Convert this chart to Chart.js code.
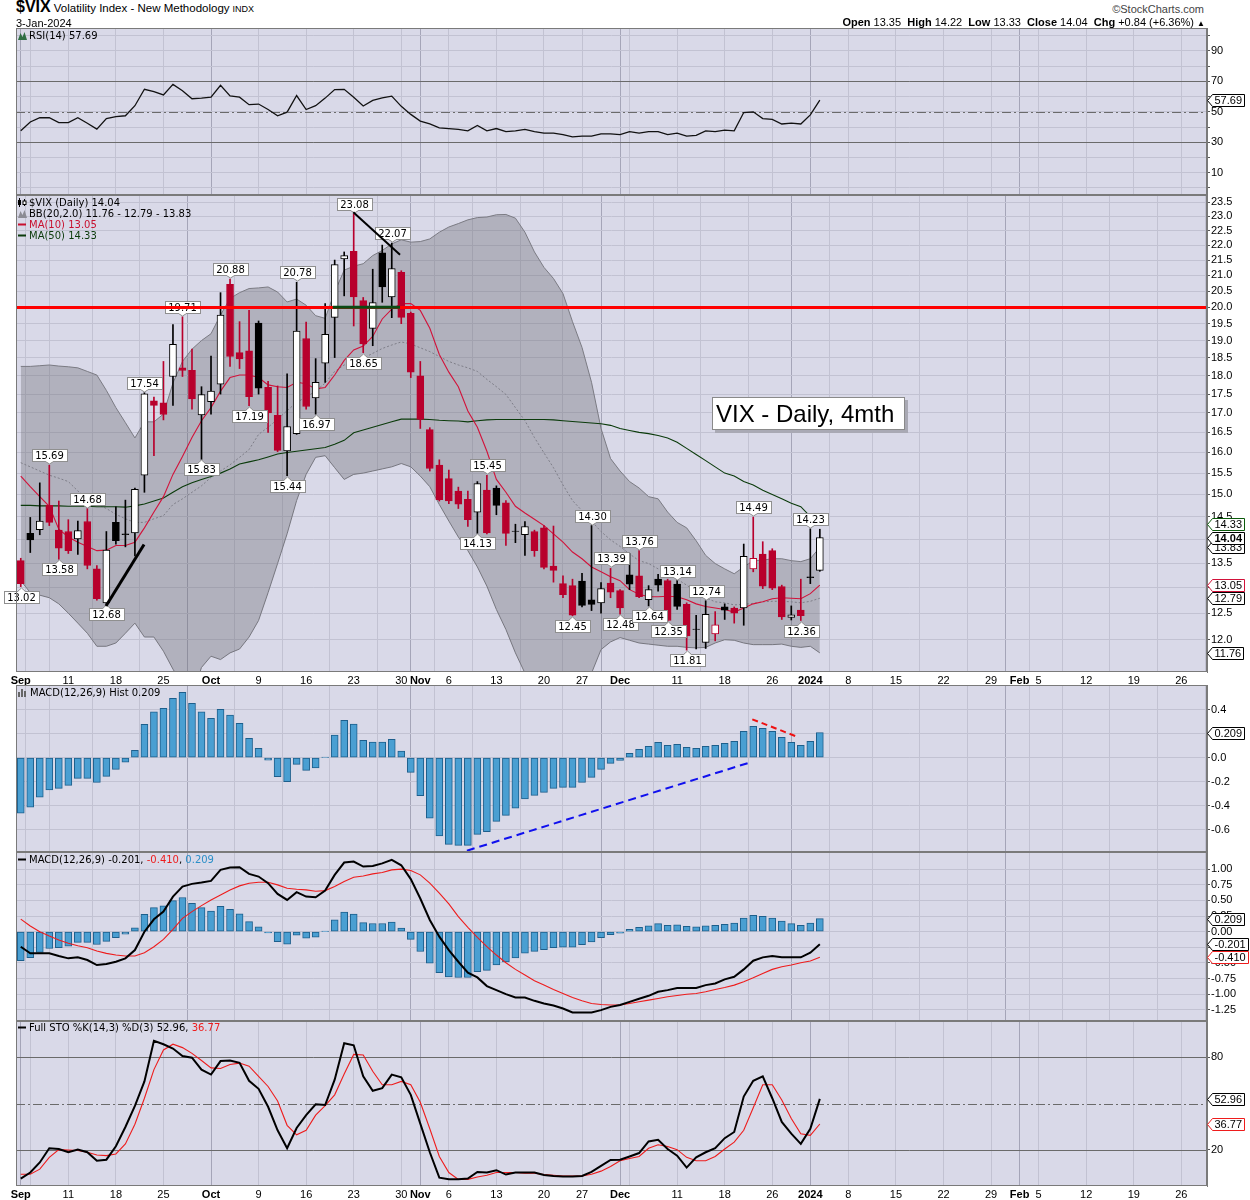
<!DOCTYPE html>
<html>
<head>
<meta charset="utf-8">
<title>$VIX Daily</title>
<script src="https://cdn.jsdelivr.net/npm/chart.js@4.4.1/dist/chart.umd.min.js"></script>
<style>
  html, body { margin: 0; padding: 0; background: #fff; }
  #page { position: relative; width: 1250px; height: 1200px; overflow: hidden; }
  #page canvas { position: absolute; left: 0; }
  .txt { position: absolute; white-space: nowrap; color: #000; font-family: "Liberation Sans", Arial, sans-serif; font-size: 11px; line-height: 12px; }
  .leg { position: absolute; left: 18px; white-space: nowrap; font-family: "DejaVu Sans", Verdana, sans-serif; font-size: 10px; line-height: 11px; color: #000; }
  .leg svg { vertical-align: -1px; margin-right: 2px; }
  #note { position: absolute; left: 712px; top: 397px; width: 188px; height: 31px; padding-left: 3px; background: #fff; border: 1px solid #8a8a8a; box-shadow: 3px 3px 0 #a9a9b4; font-family: "Liberation Sans", Arial, sans-serif; font-size: 24px; line-height: 31px; }
</style>
</head>
<body>
<div id="page">
  <canvas id="cRsi" width="1250" height="167" style="top:28px"></canvas>
  <canvas id="cMain" width="1250" height="491" style="top:195px"></canvas>
  <canvas id="cHist" width="1250" height="167" style="top:685px"></canvas>
  <canvas id="cMacd" width="1250" height="169" style="top:852px"></canvas>
  <canvas id="cSto" width="1250" height="179" style="top:1021px"></canvas>

  <div class="txt" style="left:16px;top:1px"><b style="font-size:16px;font-family:Arial,'Liberation Sans'">$VIX</b>&nbsp;<span style="font-size:11.5px">Volatility Index - New Methodology</span>&nbsp;<span style="font-size:9px">INDX</span></div>
  <div class="txt" style="left:16px;top:17px">3-Jan-2024</div>
  <div class="txt" style="right:46px;top:3px;color:#444">&copy;StockCharts.com</div>
  <div class="txt" id="ohlc" style="right:45px;top:16px"></div>

  <div class="leg" style="top:30px"><svg width="9" height="9"><path d="M0 9 L2.5 2 L4.5 6 L6.5 1 L9 9 Z" fill="#2f6e44"/></svg><span id="lgRsi"></span></div>
  <div class="leg" style="top:197px"><svg width="9" height="9"><path d="M1.5 0 V9 M6.5 1 V8" stroke="#000"/><rect x="0" y="2" width="3" height="5" fill="#000"/><rect x="5" y="3" width="3" height="3.5" fill="#fff" stroke="#000"/></svg><span id="lgMain"></span></div>
  <div class="leg" style="top:208px"><svg width="9" height="9"><path d="M0 9 L2.5 2 L4.5 6 L6.5 1 L9 9 Z" fill="#8c8c94"/></svg><span id="lgBB"></span></div>
  <div class="leg" style="top:219px;color:#c8102e"><svg width="9" height="9"><rect x="0" y="3.5" width="8" height="2" fill="#c8102e"/></svg><span id="lgMa10"></span></div>
  <div class="leg" style="top:230px;color:#0b3b0b"><svg width="9" height="9"><rect x="0" y="3.5" width="8" height="2" fill="#0b3b0b"/></svg><span id="lgMa50"></span></div>
  <div class="leg" style="top:687px"><svg width="10" height="9"><rect x="0" y="4" width="2" height="5" fill="#666"/><rect x="3" y="1" width="2" height="8" fill="#666"/><rect x="6" y="3" width="2" height="6" fill="#666"/></svg><span id="lgHist"></span></div>
  <div class="leg" style="top:854px"><svg width="9" height="9"><rect x="0" y="3.5" width="8" height="2" fill="#000"/></svg><span id="lgMacd"></span></div>
  <div class="leg" style="top:1022px"><svg width="9" height="9"><rect x="0" y="3.5" width="8" height="2" fill="#000"/></svg><span id="lgSto"></span></div>

  <div id="note">VIX - Daily, 4mth</div>
</div>

<script>
// trading days shown on the axis (last 40 are the empty space to the right)
const days = [
  'Sep 1', 'Sep 5', 'Sep 6', 'Sep 7', 'Sep 8',
  'Sep 11', 'Sep 12', 'Sep 13', 'Sep 14', 'Sep 15',
  'Sep 18', 'Sep 19', 'Sep 20', 'Sep 21', 'Sep 22',
  'Sep 25', 'Sep 26', 'Sep 27', 'Sep 28', 'Sep 29',
  'Oct 2', 'Oct 3', 'Oct 4', 'Oct 5', 'Oct 6',
  'Oct 9', 'Oct 10', 'Oct 11', 'Oct 12', 'Oct 13',
  'Oct 16', 'Oct 17', 'Oct 18', 'Oct 19', 'Oct 20',
  'Oct 23', 'Oct 24', 'Oct 25', 'Oct 26', 'Oct 27',
  'Oct 30', 'Oct 31', 'Nov 1', 'Nov 2', 'Nov 3',
  'Nov 6', 'Nov 7', 'Nov 8', 'Nov 9', 'Nov 10',
  'Nov 13', 'Nov 14', 'Nov 15', 'Nov 16', 'Nov 17',
  'Nov 20', 'Nov 21', 'Nov 22', 'Nov 24',
  'Nov 27', 'Nov 28', 'Nov 29', 'Nov 30', 'Dec 1',
  'Dec 4', 'Dec 5', 'Dec 6', 'Dec 7', 'Dec 8',
  'Dec 11', 'Dec 12', 'Dec 13', 'Dec 14', 'Dec 15',
  'Dec 18', 'Dec 19', 'Dec 20', 'Dec 21', 'Dec 22',
  'Dec 26', 'Dec 27', 'Dec 28', 'Dec 29',
  'Jan 2', 'Jan 3', 'Jan 4', 'Jan 5',
  'Jan 8', 'Jan 9', 'Jan 10', 'Jan 11', 'Jan 12',
  'Jan 15', 'Jan 16', 'Jan 17', 'Jan 18', 'Jan 19',
  'Jan 22', 'Jan 23', 'Jan 24', 'Jan 25', 'Jan 26',
  'Jan 29', 'Jan 30', 'Jan 31', 'Feb 1', 'Feb 2',
  'Feb 5', 'Feb 6', 'Feb 7', 'Feb 8', 'Feb 9',
  'Feb 12', 'Feb 13', 'Feb 14', 'Feb 15', 'Feb 16',
  'Feb 19', 'Feb 20', 'Feb 21', 'Feb 22', 'Feb 23',
  'Feb 26', 'Feb 27', 'Feb 28'
];
const weekStart = [1, 5, 10, 15, 20, 25, 30, 35, 40, 45, 50, 55, 59, 64, 69, 74, 79, 83, 87, 92, 97, 102, 107, 112, 117, 122];
const monthStart = [0, 20, 42, 63, 83, 105];
const tickIdx = [0, 5, 10, 15, 20, 25, 30, 35, 40, 42, 45, 50, 55, 59, 63, 69, 74, 79, 83, 87, 92, 97, 102, 105, 107, 112, 117, 122];
const tickText = ['Sep', '11', '18', '25', 'Oct', '9', '16', '23', '30', 'Nov', '6', '13', '20', '27', 'Dec', '11', '18', '26', '2024', '8', '15', '22', '29', 'Feb', '5', '12', '19', '26'];

const priorClose = 13.57;
const openV = [13.55, 14.13, 14.21, 14.75, 14.20, 14.17, 14.01, 14.39, 13.38, 12.70,
  14.37, 14.12, 14.14, 15.45, 17.32, 17.27, 17.98, 18.22, 18.15, 16.95,
  17.30, 17.77, 20.71, 18.65, 18.70, 19.52, 17.68, 16.94, 16.04, 16.47,
  19.06, 17.40, 18.35, 19.69, 21.54, 21.79, 20.20, 19.36, 21.74, 20.32,
  21.10, 19.81, 18.00, 16.57, 15.69, 15.37, 15.08, 14.89, 14.60, 15.10,
  15.15, 14.81, 14.18, 14.10, 14.17, 14.25, 13.44, 13.08, 13.04,
  13.13, 12.76, 12.70, 13.09, 12.94, 13.26, 13.24, 12.76, 13.17, 13.14,
  13.07, 12.67, 12.20, 11.95, 12.11, 12.62, 12.60, 12.60, 13.38, 13.69,
  13.76, 13.02, 12.42, 12.56, 13.22, 13.35];
const highV = [13.60, 14.48, 15.27, 15.69, 14.85, 14.43, 14.40, 14.68, 13.45, 14.17,
  14.72, 14.87, 15.15, 17.54, 17.42, 18.40, 19.47, 19.71, 18.75, 17.70,
  18.55, 20.45, 20.88, 19.56, 19.90, 19.58, 17.85, 17.72, 18.05, 20.78,
  19.55, 18.48, 20.11, 21.50, 21.77, 23.08, 20.30, 21.20, 22.00, 22.07,
  21.15, 19.85, 18.40, 16.62, 15.82, 15.57, 15.17, 15.08, 15.30, 15.45,
  15.20, 14.86, 14.33, 14.39, 14.20, 14.30, 14.29, 13.24, 13.17,
  13.29, 14.30, 13.10, 13.39, 12.96, 13.70, 13.76, 13.04, 13.27, 13.17,
  13.14, 12.70, 12.46, 12.74, 12.53, 12.68, 12.62, 13.90, 14.49, 13.95,
  13.80, 13.05, 12.64, 13.17, 14.23, 14.22];
const lowV = [13.02, 13.72, 14.10, 14.30, 13.58, 13.70, 13.68, 13.38, 12.75, 12.68,
  13.90, 13.84, 13.65, 15.05, 15.92, 16.82, 17.20, 17.98, 17.10, 15.83,
  16.97, 17.50, 18.26, 18.20, 17.19, 17.50, 16.50, 16.02, 15.44, 16.45,
  17.10, 16.97, 17.82, 18.51, 20.35, 19.43, 18.65, 18.85, 20.15, 19.68,
  19.50, 17.95, 16.60, 15.55, 14.85, 14.79, 14.68, 14.28, 14.13, 14.12,
  14.54, 13.87, 13.93, 13.66, 13.64, 13.38, 13.11, 12.80, 12.45,
  12.62, 12.55, 12.50, 12.80, 12.48, 12.96, 12.80, 12.64, 12.93, 12.35,
  12.57, 11.81, 11.83, 11.84, 11.98, 12.38, 12.31, 12.27, 13.32, 12.98,
  12.96, 12.38, 12.37, 12.36, 13.08, 13.33];
const closeV = [13.08, 13.99, 14.40, 14.37, 13.81, 13.76, 14.19, 13.45, 12.78, 13.77,
  13.97, 14.10, 15.12, 17.51, 17.20, 16.96, 18.89, 18.15, 17.37, 17.49,
  17.58, 19.76, 18.54, 18.47, 17.43, 17.66, 17.00, 16.05, 16.65, 19.28,
  17.17, 17.82, 19.18, 21.35, 21.65, 20.32, 18.90, 20.14, 20.63, 21.22,
  19.69, 18.10, 16.83, 15.61, 14.88, 14.85, 14.78, 14.43, 15.25, 14.14,
  14.75, 14.13, 14.17, 14.28, 13.76, 13.41, 13.35, 12.86, 12.46,
  12.65, 12.67, 12.98, 12.91, 12.60, 13.07, 12.82, 12.96, 13.05, 12.36,
  12.63, 12.07, 12.19, 12.48, 12.28, 12.56, 12.50, 13.64, 13.60, 13.03,
  12.99, 12.43, 12.47, 12.45, 13.20, 14.04];

const ma10 = [15.43, 15.18, 14.95, 14.73, 14.22, 14.05, 13.94, 13.85, 13.76, 13.77,
  13.87, 13.87, 13.94, 14.25, 14.60, 14.95, 15.47, 15.90, 16.37, 16.80,
  17.14, 17.58, 17.95, 18.02, 18.02, 17.95, 17.75, 17.70, 17.68, 17.82,
  17.78, 17.64, 17.68, 18.02, 18.43, 18.73, 18.84, 19.12, 19.64, 19.94,
  20.11, 20.11, 19.90, 19.36, 18.60, 18.10, 17.70, 17.05, 16.63, 16.03,
  15.35, 15.05, 14.73, 14.58, 14.44, 14.30, 14.12, 13.94, 13.73,
  13.59, 13.42, 13.32, 13.22, 13.14, 12.96, 12.87, 12.82, 12.82, 12.83,
  12.82, 12.76, 12.68, 12.63, 12.60, 12.57, 12.52, 12.60, 12.68, 12.72,
  12.78, 12.80, 12.79, 12.78, 12.88, 13.05];
const ma50 = [14.75, 14.75, 14.74, 14.74, 14.74, 14.73, 14.73, 14.73, 14.72, 14.72,
  14.72, 14.71, 14.74, 14.78, 14.85, 14.92, 15.05, 15.18, 15.27, 15.35,
  15.42, 15.50, 15.60, 15.72, 15.77, 15.82, 15.89, 15.96, 16.00, 16.03,
  16.06, 16.09, 16.12, 16.20, 16.30, 16.49, 16.56, 16.63, 16.70, 16.77,
  16.84, 16.84, 16.84, 16.83, 16.81, 16.80, 16.79, 16.77, 16.80, 16.82,
  16.83, 16.83, 16.83, 16.83, 16.83, 16.83, 16.82, 16.80, 16.78,
  16.76, 16.74, 16.72, 16.68, 16.60, 16.55, 16.50, 16.47, 16.42, 16.36,
  16.25, 16.10, 15.95, 15.80, 15.65, 15.50, 15.43, 15.30, 15.22, 15.10,
  15.00, 14.90, 14.80, 14.72, 14.50, 14.33];
const bbUpper = [18.26, 18.26, 18.28, 18.30, 18.27, 18.25, 18.22, 18.12, 18.02, 17.60,
  17.14, 16.75, 16.36, 16.77, 16.77, 16.97, 17.80, 18.40, 18.75, 19.00,
  19.20, 19.76, 20.27, 20.45, 20.58, 20.60, 20.63, 20.47, 20.16, 20.25,
  20.06, 19.74, 19.66, 20.47, 21.17, 21.30, 21.38, 21.65, 21.82, 22.04,
  22.18, 22.10, 22.12, 22.21, 22.44, 22.62, 22.74, 22.87, 22.95, 22.97,
  23.05, 23.06, 22.93, 22.44, 21.77, 21.26, 20.90, 20.42, 19.56,
  18.80, 17.82, 16.60, 15.85, 15.55, 15.30, 15.15, 14.95, 14.90, 14.60,
  14.37, 14.25, 13.97, 13.66, 13.49, 13.38, 13.28, 13.42, 13.55, 13.56,
  13.59, 13.59, 13.55, 13.53, 13.59, 13.83];
const bbMid = [15.75, 15.65, 15.55, 15.45, 15.38, 15.30, 15.08, 14.90, 14.78, 14.68,
  14.55, 14.45, 14.37, 14.37, 14.45, 14.52, 14.77, 14.90, 15.05, 15.20,
  15.40, 15.55, 15.70, 15.88, 16.07, 16.45, 16.63, 16.84, 17.06, 17.28,
  17.42, 17.58, 17.80, 18.12, 18.30, 18.40, 18.49, 18.63, 18.77, 18.87,
  18.96, 18.90, 18.79, 18.68, 18.54, 18.40, 18.30, 18.22, 18.12, 17.90,
  17.70, 17.49, 17.14, 16.80, 16.37, 15.99, 15.63, 15.22, 14.86,
  14.63, 14.40, 14.17, 13.99, 13.85, 13.69, 13.55, 13.49, 13.38, 13.28,
  13.17, 13.05, 12.92, 12.80, 12.72, 12.70, 12.66, 12.67, 12.69, 12.72,
  12.73, 12.73, 12.72, 12.70, 12.73, 12.79];
const bbLower = [13.14, 12.90, 12.85, 12.80, 12.68, 12.50, 12.31, 12.12, 11.88, 11.88,
  11.94, 12.12, 12.31, 12.05, 12.05, 11.79, 11.47, 11.20, 11.00, 11.50,
  11.70, 11.64, 11.76, 11.83, 12.05, 12.36, 12.90, 13.49, 14.12, 14.86,
  15.47, 15.88, 15.92, 15.63, 15.35, 15.47, 15.50, 15.55, 15.60, 15.65,
  15.73, 15.65, 15.43, 15.18, 14.77, 14.40, 14.05, 13.76, 13.42, 13.03,
  12.57, 12.19, 11.76, 11.40, 11.10, 10.90, 10.80, 10.80, 10.90,
  11.10, 11.40, 11.82, 11.96, 12.04, 11.99, 11.94, 11.92, 11.90, 11.88,
  11.88, 11.86, 11.85, 11.86, 11.94, 12.00, 11.99, 11.94, 11.91, 11.91,
  11.91, 11.92, 11.88, 11.86, 11.88, 11.76];

const rsi14 = [37.5, 43.3, 46.1, 46.1, 42.9, 42.9, 46.1, 42.5, 38.6, 45.5,
  46.8, 47.4, 54.0, 64.8, 63.3, 61.1, 68.0, 63.9, 58.6, 59.0,
  59.6, 67.4, 60.5, 59.6, 54.7, 55.1, 51.5, 47.4, 49.8, 60.7,
  51.5, 54.0, 59.0, 64.6, 64.8, 59.6, 53.8, 57.5, 59.2, 60.3,
  53.6, 48.3, 43.9, 42.0, 39.5, 39.0, 38.5, 37.5, 41.0, 37.5,
  39.0, 37.0, 37.5, 38.5, 37.0, 36.0, 36.0, 35.0, 33.5,
  34.0, 34.0, 35.5, 35.5, 35.0, 37.0, 36.0, 37.0, 37.0, 35.0,
  36.0, 34.0, 34.5, 37.5, 37.0, 38.0, 37.5, 49.5, 50.0, 45.5,
  45.0, 42.0, 42.5, 42.0, 48.0, 57.69];

const macdLine = [-0.240, -0.346, -0.346, -0.346, -0.389, -0.426, -0.410, -0.453, -0.533, -0.517,
  -0.480, -0.426, -0.293, 0.000, 0.198, 0.320, 0.560, 0.720, 0.763, 0.784,
  0.811, 0.987, 1.024, 1.030, 0.923, 0.880, 0.774, 0.603, 0.507, 0.630,
  0.560, 0.550, 0.656, 0.907, 1.104, 1.120, 1.040, 1.050, 1.090, 1.147,
  1.060, 0.840, 0.530, 0.187, -0.080, -0.293, -0.480, -0.656, -0.730, -0.869,
  -0.933, -0.997, -1.050, -1.050, -1.104, -1.146, -1.178, -1.226, -1.290,
  -1.290, -1.290, -1.253, -1.200, -1.170, -1.120, -1.070, -1.024, -0.960, -0.933,
  -0.900, -0.900, -0.900, -0.853, -0.827, -0.762, -0.720, -0.602, -0.464, -0.410,
  -0.390, -0.410, -0.410, -0.410, -0.336, -0.201];
const macdSignal = [0.200, 0.091, 0.000, -0.069, -0.133, -0.186, -0.224, -0.256, -0.309, -0.346,
  -0.373, -0.389, -0.389, -0.336, -0.240, -0.122, 0.037, 0.213, 0.320, 0.416,
  0.507, 0.587, 0.667, 0.731, 0.774, 0.790, 0.790, 0.747, 0.694, 0.678,
  0.667, 0.646, 0.656, 0.720, 0.800, 0.870, 0.890, 0.923, 0.944, 0.987,
  0.998, 0.976, 0.907, 0.774, 0.614, 0.443, 0.240, 0.070, -0.090, -0.240,
  -0.373, -0.496, -0.602, -0.693, -0.784, -0.853, -0.922, -0.986, -1.050,
  -1.104, -1.146, -1.162, -1.170, -1.170, -1.146, -1.120, -1.093, -1.066, -1.040,
  -1.018, -1.000, -0.986, -0.960, -0.922, -0.890, -0.853, -0.800, -0.736, -0.666,
  -0.602, -0.560, -0.533, -0.496, -0.469, -0.410];
const macdHist = [-0.463, -0.413, -0.330, -0.269, -0.255, -0.230, -0.172, -0.172, -0.205, -0.155,
  -0.097, -0.038, 0.062, 0.278, 0.383, 0.411, 0.495, 0.545, 0.453, 0.383,
  0.328, 0.403, 0.356, 0.286, 0.161, 0.078, -0.020, -0.158, -0.200, -0.055,
  -0.105, -0.086, 0.003, 0.189, 0.311, 0.281, 0.145, 0.131, 0.131, 0.153,
  0.056, -0.122, -0.317, -0.503, -0.653, -0.722, -0.731, -0.731, -0.639, -0.617,
  -0.531, -0.481, -0.420, -0.344, -0.314, -0.289, -0.256, -0.247, -0.247,
  -0.206, -0.164, -0.097, -0.047, -0.022, 0.036, 0.069, 0.094, 0.128, 0.103,
  0.111, 0.086, 0.078, 0.094, 0.103, 0.119, 0.136, 0.219, 0.261, 0.244,
  0.219, 0.169, 0.128, 0.103, 0.136, 0.209];

const stoK = [1.5, 5.4, 11.9, 21.1, 20.6, 18.5, 20.2, 18.5, 13.0, 13.7,
  22.4, 34.8, 48.4, 64.3, 90.5, 88.3, 85.5, 80.7, 79.6, 71.9,
  68.7, 77.4, 77.8, 76.3, 64.7, 59.5, 47.9, 32.7, 21.1, 34.2,
  42.5, 49.5, 49.0, 65.4, 88.9, 87.6, 67.6, 58.2, 59.9, 68.7,
  66.9, 55.6, 37.0, 18.5, 2.1, 1.0, 1.0, 1.5, 5.8, 5.4,
  6.9, 4.1, 5.4, 5.4, 5.4, 3.8, 3.2, 2.8, 2.8,
  3.2, 5.8, 9.7, 13.5, 13.7, 15.8, 18.0, 25.5, 26.5, 20.6,
  16.3, 8.6, 15.2, 18.5, 21.1, 27.6, 31.6, 54.5, 64.7, 67.6,
  53.4, 38.1, 30.5, 23.9, 33.7, 52.96];
const stoD = [4.3, 4.3, 7.6, 15.2, 20.2, 20.0, 19.6, 18.5, 16.7, 16.3,
  17.4, 23.9, 36.6, 53.4, 71.9, 84.6, 88.3, 86.1, 82.4, 77.8,
  73.0, 72.6, 75.2, 76.1, 74.1, 67.6, 61.0, 51.6, 35.9, 29.8,
  32.7, 42.5, 48.6, 55.6, 69.1, 81.7, 81.3, 70.8, 62.1, 62.1,
  64.3, 62.1, 50.8, 33.7, 15.8, 5.4, 1.0, 1.0, 2.5, 3.6,
  5.4, 5.4, 5.4, 4.9, 4.9, 4.1, 3.6, 3.2, 3.2,
  3.2, 4.3, 6.3, 9.3, 13.0, 14.5, 15.8, 21.1, 23.3, 22.2,
  20.2, 15.2, 13.0, 13.0, 15.8, 20.6, 25.0, 32.7, 47.3, 62.1,
  62.1, 52.3, 40.3, 30.5, 29.4, 36.77];

// labelled highs ('a') and lows ('b')
const peakIdx = [0, 3, 4, 7, 9, 13, 17, 19, 22, 24, 28, 29, 31, 35, 36, 39, 48, 49, 58, 60, 62, 63, 65, 66, 68, 69, 70, 72, 77, 82, 83];
const peakSide = ['b', 'a', 'b', 'a', 'b', 'a', 'a', 'b', 'a', 'b', 'b', 'a', 'b', 'a', 'b', 'a', 'b', 'a', 'b', 'a', 'a', 'b', 'a', 'b', 'b', 'a', 'b', 'a', 'a', 'b', 'a'];

// hand-drawn lines on the chart, in day-index / value units
const mainLines = [
  { x1: 8.96, y1: 12.64, x2: 12.96, y2: 13.89, c: '#000', w: 3 },
  { x1: 34.96, y1: 23.14, x2: 39.87, y2: 21.68, c: '#000', w: 2 },
  { x1: 32.8, y1: 20, x2: 39.87, y2: 20, c: '#0b4a14', w: 3 }
];
const histLines = [
  { x1: 46.9, y1: -0.775, x2: 76.8, y2: -0.036, c: '#1010ee', w: 2, dash: [8, 5] },
  { x1: 76.9, y1: 0.32, x2: 81.8, y2: 0.169, c: '#ee1010', w: 2, dash: [6, 4] }
];

const mainTicks = [12.0, 12.5, 13.0, 13.5, 14.0, 14.5, 15.0, 15.5, 16.0, 16.5, 17.0, 17.5, 18.0, 18.5, 19.0, 19.5, 20.0, 20.5, 21.0, 21.5, 22.0, 22.5, 23.0, 23.5];
const rsiTicks = [0, 10, 20, 30, 40, 50, 60, 70, 80, 90, 100];
const rsiLabels = [90, 70, 50, 30, 10];
const histTicks = [-0.6, -0.4, -0.2, 0, 0.2, 0.4];
const macdTicks = [-1.25, -1, -0.75, -0.5, -0.25, 0, 0.25, 0.5, 0.75, 1];
const stoTicks = [20, 80];

const FONT = '"Liberation Sans", Arial, sans-serif';
const PANEL_BG = '#d9d9e8';
const GRID = '#c2c2d2';
const GRID_MONTH = '#a5a5b8';
const RED = '#b8002c';
const X_MIN = -0.5, X_MAX = 124.7;

const idx = days.map((d, i) => i);
const last = closeV.length - 1;
const gridDays = [...new Set([...monthStart, ...weekStart])].sort((a, b) => a - b);

const candleUp = closeV.map((c, i) => c >= openV[i]);
const candleRed = closeV.map((c, i) => c < (i ? closeV[i - 1] : priorClose));
const lineCol = candleRed.map(r => r ? RED : '#000');
const fillCol = candleUp.map((u, i) => u ? '#ffffff' : lineCol[i]);
const bodies = openV.map((o, i) => [o, closeV[i]]);
const wicks = lowV.map((l, i) => [l, highV[i]]);

function clipArea(ctx, a) {
  ctx.beginPath();
  ctx.rect(a.left, a.top, a.width, a.height);
  ctx.clip();
}

function drawLevels(chart, levels, after) {
  const { ctx, chartArea: a, scales: { y } } = chart;
  ctx.save();
  clipArea(ctx, a);
  levels.forEach(lv => {
    if (!!lv.after !== after) return;
    const py = Math.round(y.getPixelForValue(lv.v)) + (lv.w % 2 ? 0.5 : 0);
    ctx.strokeStyle = lv.c;
    ctx.lineWidth = lv.w;
    ctx.setLineDash(lv.dash || []);
    ctx.beginPath();
    ctx.moveTo(a.left, py);
    ctx.lineTo(a.right, py);
    ctx.stroke();
  });
  ctx.restore();
}

function drawSegments(chart, segs) {
  const { ctx, chartArea: a, scales: { x, y } } = chart;
  ctx.save();
  clipArea(ctx, a);
  segs.forEach(s => {
    ctx.strokeStyle = s.c;
    ctx.lineWidth = s.w;
    ctx.setLineDash(s.dash || []);
    ctx.beginPath();
    ctx.moveTo(x.getPixelForValue(s.x1), y.getPixelForValue(s.y1));
    ctx.lineTo(x.getPixelForValue(s.x2), y.getPixelForValue(s.y2));
    ctx.stroke();
  });
  ctx.restore();
}

function drawTags(chart, tags) {
  const { ctx, chartArea: a, scales: { y } } = chart;
  ctx.save();
  tags.forEach(t => {
    const py = Math.round(y.getPixelForValue(t.v)) + 0.5;
    ctx.font = (t.bold ? 'bold ' : '') + '11px ' + FONT;
    const w = Math.ceil(ctx.measureText(t.text).width) + 4;
    const x0 = Math.round(a.right) + 0.5, x1 = x0 + 5, h = 6;
    ctx.beginPath();
    ctx.moveTo(x0, py);
    ctx.lineTo(x1, py - h);
    ctx.lineTo(x1 + w, py - h);
    ctx.lineTo(x1 + w, py + h);
    ctx.lineTo(x1, py + h);
    ctx.closePath();
    ctx.fillStyle = '#fff';
    ctx.fill();
    ctx.strokeStyle = t.c;
    ctx.lineWidth = 1;
    ctx.stroke();
    ctx.fillStyle = t.tc || '#000';
    ctx.textAlign = 'left';
    ctx.textBaseline = 'middle';
    ctx.fillText(t.text, x1 + 2, py + 0.5);
  });
  ctx.restore();
}

function drawPeaks(chart) {
  const { ctx, scales: { x, y } } = chart;
  ctx.save();
  ctx.font = '10px "DejaVu Sans", Verdana, sans-serif';
  ctx.textAlign = 'center';
  ctx.textBaseline = 'middle';
  peakIdx.forEach((i, k) => {
    const up = peakSide[k] === 'a';
    const v = up ? highV[i] : lowV[i];
    const txt = v.toFixed(2);
    const px = Math.round(x.getPixelForValue(i)) + 0.5;
    const py = Math.round(y.getPixelForValue(v));
    const w = Math.ceil(ctx.measureText(txt).width) + 6, h = 12;
    const bx = Math.round(px - w / 2) + 0.5;
    const by = up ? py - 4 - h + 0.5 : py + 4 + 0.5;
    ctx.fillStyle = '#fff';
    ctx.strokeStyle = '#8f8f8f';
    ctx.lineWidth = 1;
    ctx.fillRect(bx, by, w, h);
    ctx.strokeRect(bx, by, w, h);
    const edge = up ? by + h : by;
    const tip = up ? py - 1 : py + 1;
    ctx.beginPath();
    ctx.moveTo(px - 4, edge);
    ctx.lineTo(px, tip);
    ctx.lineTo(px + 4, edge);
    ctx.fill();
    ctx.stroke();
    ctx.fillRect(px - 3, up ? edge - 1.5 : edge - 0.5, 6, 2);
    ctx.fillStyle = '#000';
    ctx.fillText(txt, px, by + h / 2 + 0.5);
  });
  ctx.restore();
}

function panelPlugin(cfg) {
  return {
    id: 'panel',
    beforeDraw(chart) {
      const { ctx, chartArea: a } = chart;
      ctx.save();
      ctx.fillStyle = PANEL_BG;
      ctx.fillRect(a.left, a.top, a.width, a.height);
      ctx.restore();
    },
    beforeDatasetsDraw(chart) {
      drawLevels(chart, cfg.levels || [], false);
    },
    afterDatasetsDraw(chart) {
      if (cfg.peaks) drawPeaks(chart);
      drawLevels(chart, cfg.levels || [], true);
      drawSegments(chart, cfg.segments || []);
    },
    afterDraw(chart) {
      const { ctx, chartArea: a } = chart;
      ctx.save();
      ctx.strokeStyle = '#7a7a7a';
      ctx.lineWidth = 1;
      ctx.strokeRect(Math.round(a.left) + 0.5, Math.round(a.top) + 0.5, Math.round(a.width) - 1, Math.round(a.height) - 1);
      ctx.restore();
      drawTags(chart, cfg.tags || []);
    }
  };
}

function xAxis(showLabels) {
  const isMonth = c => monthStart.includes(c.tick ? c.tick.value : -1);
  return {
    type: 'linear', min: X_MIN, max: X_MAX, offset: false,
    afterBuildTicks: s => { s.ticks = gridDays.map(v => ({ value: v })); },
    afterFit: s => { s.height = showLabels ? 14 : 0; s.paddingLeft = 0; s.paddingRight = 0; },
    grid: { color: c => isMonth(c) ? GRID_MONTH : GRID, drawTicks: false, lineWidth: 1 },
    border: { display: false },
    ticks: {
      display: showLabels, autoSkip: false, maxRotation: 0, minRotation: 0, padding: 2, color: '#000',
      font: c => ({ family: FONT, size: 11, weight: isMonth(c) ? 'bold' : 'normal' }),
      callback: v => { const k = tickIdx.indexOf(v); return k < 0 ? '' : tickText[k]; }
    }
  };
}

function yAxis(o) {
  return {
    type: o.type || 'linear', position: 'right', min: o.min, max: o.max,
    afterBuildTicks: s => { s.ticks = o.ticks.map(v => ({ value: v })); },
    afterFit: s => { s.width = 43; s.paddingTop = 0; s.paddingBottom = 0; },
    grid: { color: o.grid || GRID, drawTicks: true, tickLength: 3, tickColor: '#555', lineWidth: 1 },
    border: { display: true, color: '#7a7a7a' },
    ticks: { autoSkip: false, padding: 1, color: '#000', font: { family: FONT, size: 11 }, callback: o.label }
  };
}

function makeChart(id, datasets, yOpts, showX, cfg) {
  return new Chart(document.getElementById(id), {
    type: 'line',
    data: { labels: idx, datasets },
    options: {
      animation: false,
      responsive: false,
      layout: { padding: { left: 16, right: 0, top: 0, bottom: 0 } },
      plugins: { legend: { display: false }, tooltip: { enabled: false } },
      elements: { point: { radius: 0 }, line: { tension: 0 } },
      scales: { x: xAxis(showX), y: yAxis(yOpts) }
    },
    plugins: [panelPlugin(cfg)]
  });
}

// RSI
makeChart('cRsi', [
  { data: rsi14, borderColor: '#111', borderWidth: 1.3, pointRadius: 0 }
], { min: -4.7, max: 105.1, ticks: rsiTicks, label: v => rsiLabels.includes(v) ? String(v) : '' }, false, {
  levels: [
    { v: 70, c: '#6a6a6a', w: 1 }, { v: 30, c: '#6a6a6a', w: 1 },
    { v: 50, c: '#6a6a6a', w: 1, dash: [9, 3, 2, 3] }
  ],
  tags: [{ v: rsi14[last], text: rsi14[last].toFixed(2), c: '#000' }]
});

// price panel
makeChart('cMain', [
  { data: bbUpper, borderColor: '#7b7b83', borderWidth: 1, fill: '+1', backgroundColor: 'rgba(105,105,115,0.36)', order: 10 },
  { data: bbLower, borderColor: '#7b7b83', borderWidth: 1, fill: false, order: 10 },
  { data: bbMid, borderColor: '#7e7e88', borderWidth: 1, borderDash: [2, 2], order: 9 },
  { data: ma50, borderColor: '#0b3b0b', borderWidth: 1.1, order: 8 },
  { data: ma10, borderColor: '#d2123a', borderWidth: 1.1, order: 7 },
  { type: 'bar', data: wicks, backgroundColor: lineCol, barThickness: 1, grouped: false, order: 5 },
  { type: 'bar', data: bodies, backgroundColor: fillCol, borderColor: lineCol, borderWidth: 1, borderSkipped: false, barThickness: 7, grouped: false, order: 4 }
], { type: 'logarithmic', min: 11.42, max: 23.76, ticks: mainTicks, label: v => v.toFixed(1) }, true, {
  peaks: true,
  levels: [{ v: 20, c: '#ff0000', w: 3, after: true }],
  segments: mainLines,
  tags: [
    { v: ma50[last], text: ma50[last].toFixed(2), c: '#0b5a0b' },
    { v: bbUpper[last], text: bbUpper[last].toFixed(2), c: '#000' },
    { v: closeV[last], text: closeV[last].toFixed(2), c: '#000', bold: true },
    { v: ma10[last], text: ma10[last].toFixed(2), c: '#d2123a' },
    { v: bbMid[last], text: bbMid[last].toFixed(2), c: '#000' },
    { v: bbLower[last], text: bbLower[last].toFixed(2), c: '#000' }
  ]
});

// MACD histogram
const histBars = { type: 'bar', data: macdHist, backgroundColor: '#4a9fd2', borderColor: '#1d5f8c', borderWidth: 1, borderSkipped: false, barThickness: 7, grouped: false, order: 5 };
makeChart('cHist', [histBars], { min: -0.786, max: 0.606, ticks: histTicks, label: v => v.toFixed(1) }, false, {
  segments: histLines,
  tags: [{ v: macdHist[last], text: macdHist[last].toFixed(3), c: '#000' }]
});

// MACD lines
makeChart('cMacd', [
  Object.assign({}, histBars),
  { data: macdSignal, borderColor: '#ee1c1c', borderWidth: 1.1, order: 2 },
  { data: macdLine, borderColor: '#000', borderWidth: 2, order: 1 }
], { min: -1.426, max: 1.272, ticks: macdTicks, label: v => v.toFixed(2) }, false, {
  tags: [
    { v: macdHist[last], text: macdHist[last].toFixed(3), c: '#000' },
    { v: macdLine[last], text: macdLine[last].toFixed(3), c: '#000' },
    { v: macdSignal[last], text: macdSignal[last].toFixed(3), c: '#ee1c1c' }
  ]
});

// Full stochastics
makeChart('cSto', [
  { data: stoD, borderColor: '#ee1c1c', borderWidth: 1.1, order: 2 },
  { data: stoK, borderColor: '#000', borderWidth: 2, order: 1 }
], { min: -3.3, max: 103.3, ticks: stoTicks, grid: 'rgba(0,0,0,0)', label: v => String(v) }, true, {
  levels: [
    { v: 80, c: '#6a6a6a', w: 1 }, { v: 20, c: '#6a6a6a', w: 1 },
    { v: 50, c: '#6a6a6a', w: 1, dash: [9, 3, 2, 3] }
  ],
  tags: [
    { v: stoK[last], text: stoK[last].toFixed(2), c: '#000' },
    { v: stoD[last], text: stoD[last].toFixed(2), c: '#ee1c1c' }
  ]
});

// header and panel legends
const chg = closeV[last] - closeV[last - 1];
document.getElementById('ohlc').innerHTML =
  '<b>Open</b> ' + openV[last].toFixed(2) + '&nbsp; <b>High</b> ' + highV[last].toFixed(2) +
  '&nbsp; <b>Low</b> ' + lowV[last].toFixed(2) + '&nbsp; <b>Close</b> ' + closeV[last].toFixed(2) +
  '&nbsp; <b>Chg</b> +' + chg.toFixed(2) + ' (+' + (chg / closeV[last - 1] * 100).toFixed(2) + '%) <span style="font-size:8px">&#9650;</span>';
document.getElementById('lgRsi').textContent = 'RSI(14) ' + rsi14[last].toFixed(2);
document.getElementById('lgMain').textContent = '$VIX (Daily) ' + closeV[last].toFixed(2);
document.getElementById('lgBB').textContent = 'BB(20,2.0) ' + bbLower[last].toFixed(2) + ' - ' + bbMid[last].toFixed(2) + ' - ' + bbUpper[last].toFixed(2);
document.getElementById('lgMa10').textContent = 'MA(10) ' + ma10[last].toFixed(2);
document.getElementById('lgMa50').textContent = 'MA(50) ' + ma50[last].toFixed(2);
document.getElementById('lgHist').textContent = 'MACD(12,26,9) Hist ' + macdHist[last].toFixed(3);
document.getElementById('lgMacd').innerHTML = 'MACD(12,26,9) ' + macdLine[last].toFixed(3) +
  ', <span style="color:#ee1c1c">' + macdSignal[last].toFixed(3) + '</span>, <span style="color:#2b8fc8">' + macdHist[last].toFixed(3) + '</span>';
document.getElementById('lgSto').innerHTML = 'Full STO %K(14,3) %D(3) ' + stoK[last].toFixed(2) +
  ', <span style="color:#ee1c1c">' + stoD[last].toFixed(2) + '</span>';
</script>
</body>
</html>
